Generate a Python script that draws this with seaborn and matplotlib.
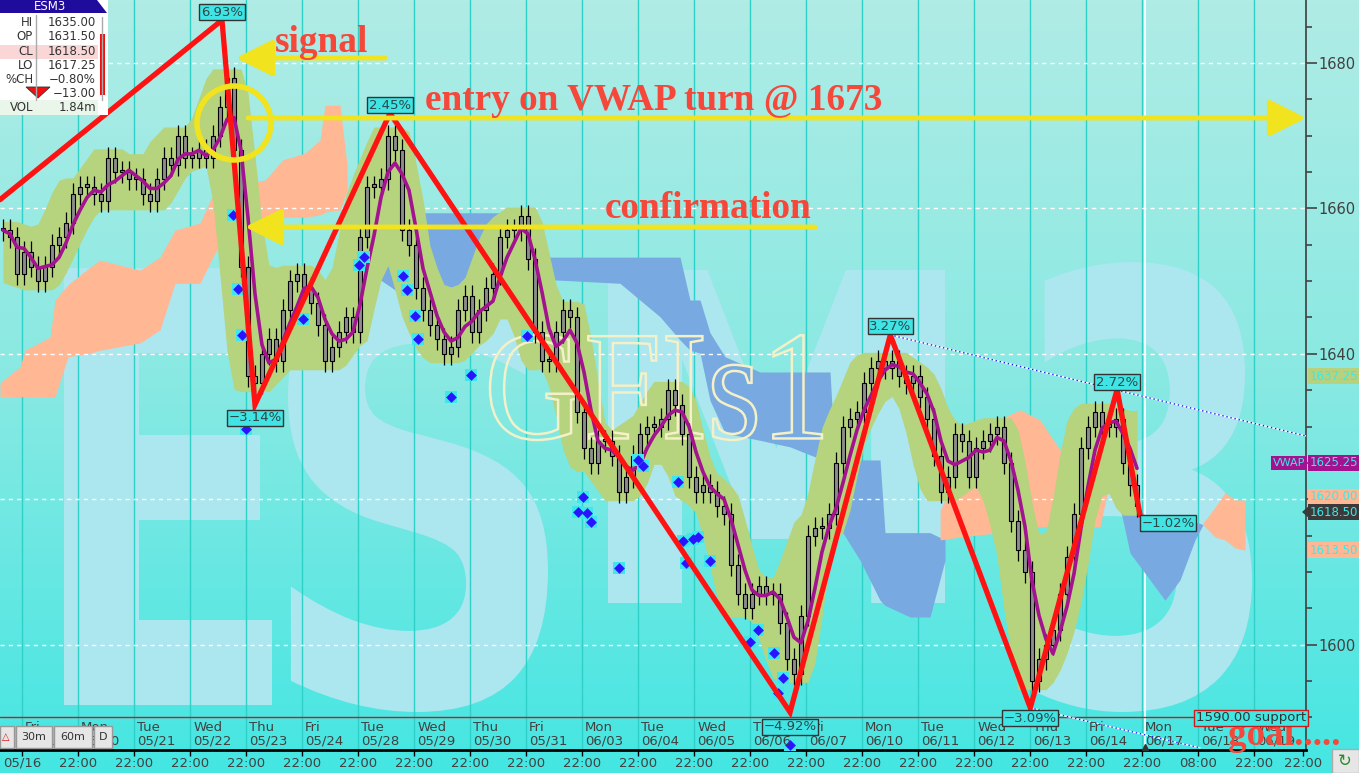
import numpy as np
import pandas as pd
import matplotlib
matplotlib.use("Agg")
import matplotlib.pyplot as plt
import seaborn as sns
from matplotlib.patches import Rectangle, Ellipse, PathPatch, Polygon
from matplotlib.textpath import TextPath
from matplotlib.font_manager import FontProperties
from matplotlib.transforms import Affine2D, blended_transform_factory
from matplotlib.colors import LinearSegmentedColormap

# ---- data (x in trading sessions, 0 = 05/16 22:00) ----
closes = [
    1657, 1656, 1651, 1654, 1652, 1650, 1652, 1655,
    1656, 1658, 1662, 1663, 1663, 1662, 1661, 1667,
    1665, 1665, 1664, 1664, 1662, 1661, 1664, 1667,
    1666, 1670, 1667, 1667, 1668, 1667, 1670, 1674,
    1678, 1668, 1652, 1637, 1636, 1640, 1642, 1639,
    1646, 1650, 1651, 1649, 1647, 1644, 1639, 1641,
    1643, 1645, 1643, 1656, 1663, 1663, 1664, 1670,
    1668, 1657, 1655, 1649, 1646, 1644, 1642, 1640,
    1641, 1646, 1648, 1643, 1646, 1649, 1651, 1656,
    1657, 1657, 1659, 1653, 1643, 1639, 1639, 1643,
    1646, 1645, 1632, 1627, 1625, 1628, 1628, 1626,
    1621, 1623, 1626, 1629, 1630, 1630, 1631, 1635,
    1633, 1629, 1623, 1621, 1622, 1621, 1619, 1618,
    1611, 1607, 1605, 1607, 1608, 1607, 1607, 1603,
    1598, 1596, 1604, 1615, 1616, 1616, 1618, 1625,
    1630, 1631, 1632, 1636, 1638, 1639, 1638, 1639,
    1637, 1636, 1637, 1634, 1631, 1626, 1621, 1623,
    1629, 1628, 1623, 1627, 1628, 1629, 1630, 1625,
    1617, 1613, 1610, 1595, 1598, 1600, 1602, 1607,
    1612, 1618, 1627, 1630, 1632, 1630, 1630, 1631,
    1625, 1622, 1619,
]

# ichimoku cloud pieces
salmon1_x = [-0.398, -0.041, 0.048, 0.495, 0.584, 0.816, 1.209, 1.388, 2.102, 2.459, 2.727,
             3.173, 3.441, 3.709, 4.066, 4.334, 4.655, 5.048, 5.316, 5.405, 5.673, 5.798]
salmon1_top = [1636.0, 1638.2, 1640.5, 1642.3, 1647.4, 1649.5, 1651.9, 1652.9, 1651.5, 1653.3, 1657.0,
               1658.0, 1662.5, 1662.9, 1663.5, 1663.9, 1666.7, 1667.6, 1669.4, 1674.2, 1674.2, 1666.0]
salmon1_bot = [1634.1, 1634.1, 1634.1, 1634.1, 1634.1, 1639.6, 1640.1, 1640.5, 1641.5, 1643.3, 1649.7,
               1649.7, 1653.9, 1656.8, 1657.7, 1658.4, 1658.8, 1658.8, 1659.1, 1659.5, 1659.8, 1662.5]

blue1_x = [6.03, 6.388, 6.923, 7.459, 7.816, 8.173, 8.888, 9.245, 9.423, 10.673, 11.03, 11.388,
           11.745, 11.923, 12.102, 12.28, 12.548, 13.173, 13.709, 14.423, 14.513, 14.959, 15.316,
           15.405, 15.852, 16.209, 16.477]
blue1_top = [1659.4, 1659.4, 1659.4, 1659.4, 1659.4, 1659.4, 1659.4, 1656.6, 1653.3, 1653.3, 1653.3,
             1653.3, 1653.3, 1647.4, 1647.4, 1642.9, 1639.6, 1637.5, 1637.5, 1637.5, 1625.4, 1625.4,
             1625.4, 1615.4, 1615.4, 1615.4, 1614.4]
blue1_bot = [1655.0, 1650.2, 1647.4, 1645.1, 1646.7, 1652.2, 1655.7, 1652.2, 1650.2, 1649.7, 1647.4,
             1645.1, 1641.9, 1640.5, 1640.1, 1633.6, 1629.1, 1628.1, 1627.2, 1625.0, 1617.1, 1611.6,
             1606.1, 1605.4, 1603.8, 1603.8, 1611.6]

salmon2_x = [16.39, 16.745, 17.459, 17.548, 17.816, 18.173, 18.53, 18.888, 19.245, 19.459]
salmon2_top = [1618.5, 1624.0, 1624.0, 1631.3, 1632.3, 1630.9, 1626.8, 1626.8, 1626.8, 1626.4]
salmon2_bot = [1614.4, 1614.8, 1615.4, 1615.8, 1616.2, 1616.2, 1616.2, 1616.2, 1616.2, 1624.0]

blue2_x = [19.459, 19.78, 20.137, 20.405, 20.673, 20.941, 21.084]
blue2_top = [1626.1, 1619.9, 1617.1, 1617.1, 1617.1, 1616.9, 1616.5]
blue2_bot = [1624.0, 1612.6, 1608.9, 1606.1, 1608.9, 1614.4, 1616.5]

salmon3_x = [21.084, 21.298, 21.477, 21.655, 21.834]
salmon3_top = [1616.7, 1618.9, 1620.9, 1619.9, 1619.9]
salmon3_bot = [1616.5, 1614.8, 1614.4, 1613.3, 1613.0]

# zigzag swings and their labels
zz_x = [-0.398, 3.566, 4.155, 6.566, 13.71, 15.5, 18.0, 19.55, 19.96]
zz_y = [1661.2, 1685.9, 1633.0, 1673.1, 1590.7, 1642.6, 1591.3, 1635.1, 1617.8]
pct_labels = ["6.93%", "-3.14%", "2.45%", "-4.92%", "3.27%", "-3.09%", "2.72%", "-1.02%"]
pct_x = [3.566, 4.155, 6.566, 13.71, 15.5, 18.0, 19.55, 20.46]
pct_y = [1687.0, 1631.2, 1674.2, 1588.7, 1643.8, 1589.9, 1636.1, 1616.7]

# signal diamonds
dia_x = [3.763, 3.852, 3.923, 3.995, 5.013, 6.014, 6.102, 6.798, 6.87, 7.012, 7.066, 7.655,
         8.013, 9.013, 10.013, 9.923, 10.084, 10.155, 10.655, 10.995, 11.084, 11.709, 11.798,
         11.977, 12.066, 11.852, 12.28, 12.995, 13.138, 13.423, 13.584, 13.495, 13.709]
dia_y = [1659.1, 1648.9, 1642.6, 1629.7, 1644.8, 1652.2, 1653.3, 1650.7, 1648.8, 1645.2, 1642.0,
         1634.1, 1637.1, 1642.4, 1620.3, 1618.2, 1618.1, 1616.9, 1610.5, 1625.4, 1624.6, 1622.4,
         1614.2, 1614.5, 1614.8, 1611.2, 1611.5, 1600.4, 1602.0, 1598.8, 1595.4, 1593.3, 1586.2]

day_names = ["Fri\n05/17", "Mon\n05/20", "Tue\n05/21", "Wed\n05/22", "Thu\n05/23", "Fri\n05/24",
             "Tue\n05/28", "Wed\n05/29", "Thu\n05/30", "Fri\n05/31", "Mon\n06/03", "Tue\n06/04",
             "Wed\n06/05", "Thu\n06/06", "Fri\n06/07", "Mon\n06/10", "Tue\n06/11", "Wed\n06/12",
             "Thu\n06/13", "Fri\n06/14", "Mon\n06/17", "Tue\n06/18", "Wed\n06/19"]
day_pos = list(range(21)) + [21.0, 22.0]
time_labels = ["05/16"] + ["22:00"] * 20 + ["08:00", "22:00", "22:00"]
time_ticks = list(range(21)) + [21.0, 22.0, 22.87]

info_names = ["HI", "OP", "CL", "LO", "%CH", "", "VOL"]
info_vals = ["1635.00", "1631.50", "1618.50", "1617.25", "\u22120.80%", "\u221213.00", "1.84m"]

W, H = 1359, 773
AX_W, AX_H = 1306, 750
XLIM = (-0.398, 22.923)
YLIM = (1585.5, 1688.67)

sns.set_theme(style="white")
plt.rcParams["font.family"] = ["DejaVu Sans"]

fig = plt.figure(figsize=(W / 100, H / 100), dpi=100)

def fp(x, y):
    # image pixel -> figure fraction
    return x / W, 1 - y / H

# background gradient for whole figure
bg = fig.add_axes([0, 0, 1, 1], zorder=-5)
cmap = LinearSegmentedColormap.from_list("bg", ["#b0ece6", "#88e9e2", "#44e6e2"])
bg.imshow(np.linspace(0, 1, 256).reshape(-1, 1), aspect="auto", cmap=cmap, extent=[0, 1, 0, 1])
bg.axis("off")

ax = fig.add_axes([0, (H - AX_H) / H, AX_W / W, AX_H / H])
ax.set_facecolor("none")
ax.set_xlim(*XLIM)
ax.set_ylim(*YLIM)

def text_in_box(s, box, prop, zorder, **kw):
    x0, x1, ytop, ybot = box
    tp = TextPath((0, 0), s, size=1, prop=prop)
    bb = tp.get_extents()
    ax0, ax1 = x0 / AX_W, x1 / AX_W
    ay0, ay1 = 1 - ybot / AX_H, 1 - ytop / AX_H
    tr = (Affine2D().translate(-bb.x0, -bb.y0)
          .scale((ax1 - ax0) / bb.width, (ay1 - ay0) / bb.height)
          .translate(ax0, ay0))
    ax.add_patch(PathPatch(tr.transform_path(tp), transform=ax.transAxes, zorder=zorder, **kw))

# big ESM3 watermark
wm = FontProperties(family="DejaVu Sans", weight="bold")
for ch, box in zip("ESM3", [(64, 272, 268, 705), (288, 548, 262, 712), (608, 945, 270, 603),
                            (1032, 1252, 262, 712)]):
    text_in_box(ch, box, wm, 0.5, facecolor="#ace6ee", edgecolor="none")

# grid
for t in range(23):
    ax.axvline(t, color="#2fd0c8", lw=1, zorder=1)
ax.axvline(20.05, color="white", lw=1.2, zorder=1)
for lv in [1600, 1620, 1640, 1660, 1680]:
    ax.axhline(lv, color="white", lw=1, ls=(0, (3, 3)), zorder=2.5)

# cloud
salmon, blue = "#ffb794", "#78a9e0"
ax.fill_between(salmon1_x, salmon1_bot, salmon1_top, color=salmon, lw=0, zorder=2)
ax.fill_between(blue1_x, blue1_bot, blue1_top, color=blue, lw=0, zorder=2)
ax.fill_between(salmon2_x, salmon2_bot, salmon2_top, color=salmon, lw=0, zorder=2)
ax.fill_between(blue2_x, blue2_bot, blue2_top, color=blue, lw=0, zorder=2)
ax.fill_between(salmon3_x, salmon3_bot, salmon3_top, color=salmon, lw=0, zorder=2)

# GFIs1 outlined watermark
text_in_box("GFIs1", (490, 822, 335, 440), FontProperties(family="Liberation Serif"), 3.5,
            facecolor="none", edgecolor="#f4f0c8", lw=1.8)

# price bars
c = np.array(closes, dtype=float)
bar_x = -0.345 + np.arange(len(c)) / 8
o = np.r_[c[0], c[:-1]]
s = pd.Series(c)
band_hi = (s.rolling(7, center=True, min_periods=1).max() + 1.2).rolling(3, center=True, min_periods=1).mean()
band_lo = (s.rolling(7, center=True, min_periods=1).min() - 1.2).rolling(3, center=True, min_periods=1).mean()
ax.fill_between(bar_x, band_lo, band_hi, color="#b6d37e", lw=0, zorder=3)

top = np.maximum(o, c)
bot = np.minimum(o, c)
ax.vlines(bar_x, bot - 1.5, top + 1.5, color="black", lw=0.9, zorder=4)
ax.bar(bar_x, np.maximum(top - bot, 0.3), bottom=bot, width=0.06, color="#8c8c8c",
       edgecolor="black", lw=0.8, zorder=4.2)

vwap = s.rolling(4, min_periods=1).mean()
sns.lineplot(x=bar_x, y=vwap.values, ax=ax, color="#a3138f", lw=2.6, zorder=5)

# diamonds
ax.scatter(dia_x, dia_y, marker="s", s=70, color="#3ee6ee", lw=0, zorder=5.5)
sns.scatterplot(x=dia_x, y=dia_y, ax=ax, marker="D", s=30, color="#2a14ff", linewidth=0, zorder=5.6)

# support line and trend lines
ax.axhline(1590, color="#d01818", lw=1, zorder=5)
for (xa, ya, xb, yb) in [(15.5, 1642.6, 22.92, 1628.7), (18.0, 1591.3, 21.03, 1585.8)]:
    ax.plot([xa, xb], [ya, yb], color="white", lw=1, zorder=5.7)
    ax.plot([xa, xb], [ya, yb], color="#1a1aff", lw=1, ls=(0, (1, 2)), zorder=5.8)

# zigzag
ax.plot(zz_x, zz_y, color="#ff1212", lw=3.8, zorder=6, solid_joinstyle="miter")
for lab, x, y in zip(pct_labels, pct_x, pct_y):
    ax.text(x, y, lab.replace("-", "\u2212"), ha="center", va="center", fontsize=9.5,
            color="#2c4848", zorder=7,
            bbox=dict(boxstyle="square,pad=0.12", fc="#40e4e4", ec="#333333", lw=1))

# axes, ticks
for sp in ["top", "left"]:
    ax.spines[sp].set_visible(False)
ax.spines["right"].set_color("#444444")
ax.spines["bottom"].set_color("black")
ax.spines["bottom"].set_linewidth(2)
ax.yaxis.tick_right()
ax.set_yticks([1600, 1620, 1640, 1660, 1680])
ax.set_yticks(np.arange(1590, 1690, 5), minor=True)
ax.tick_params(axis="y", which="major", length=8, width=1.2, color="#444444",
               labelsize=10.5, labelcolor="#404040", pad=1, right=True)
ax.tick_params(axis="y", which="minor", length=4, width=1.2, color="#444444", right=True)
ax.set_xticks(time_ticks)
ax.set_xticklabels(time_labels)
ax.tick_params(axis="x", length=4, width=1, color="black", labelsize=9.5,
               labelcolor="#404040", pad=1, bottom=True)
ax.grid(False)

tr_day = blended_transform_factory(ax.transData, ax.transAxes)
for d, lab in zip(day_pos, day_names):
    ax.text(d + 0.05, 0.004, lab, transform=tr_day, ha="left", va="bottom", fontsize=9.5,
            color="#404040", linespacing=1.0, zorder=6)
ax.plot([20.05], [YLIM[0] + 0.4], marker="^", color="#333333", ms=5, zorder=8, clip_on=False)

# annotations (image pixels)
red_txt = "#f5473a"
serif = ["Liberation Serif", "DejaVu Serif"]
for txt, x, y in [("signal", 275, 52), ("entry on VWAP turn @ 1673", 425, 110),
                  ("confirmation", 605, 218), ("goal.....", 1228, 745)]:
    fig.text(*fp(x, y), txt, ha="left", va="baseline", fontsize=26.8, fontweight="bold",
             family=serif, color=red_txt, zorder=20)

yellow = "#f1e31d"
for (tx, ty, hx, hy) in [(385, 58, 236, 58), (248, 118, 1306, 118), (815, 227, 245, 227)]:
    ax.annotate("", xy=(hx, H - hy), xytext=(tx, H - ty), xycoords="figure pixels",
                textcoords="figure pixels", zorder=19,
                arrowprops=dict(arrowstyle="-|>,head_length=0.9,head_width=0.45",
                                mutation_scale=25, lw=3.5, color=yellow,
                                shrinkA=0, shrinkB=0))
fig.patches.append(Ellipse(fp(234, 123), 74 / W, 74 / H, transform=fig.transFigure,
                           fill=False, ec=yellow, lw=4, zorder=19))

# right-hand price tags
def tag(y, s, fc, tc="#3ee8e8", x=1310, fs=8.5):
    fig.text(*fp(x, y), s, ha="left", va="center", fontsize=fs, color=tc, zorder=21,
             bbox=dict(boxstyle="square,pad=0.15", fc=fc, ec="none"))

tag(376, "1637.25", "#b6d27e")
tag(463, "1625.25", "#a3138f")
tag(463, "VWAP", "#a3138f", x=1273, fs=8)
tag(497, "1620.00", salmon)
tag(550, "1613.50", salmon)
tag(512, "1618.50", "#3a3a3a")
fig.patches.append(Polygon([fp(1302, 512), fp(1310, 505), fp(1310, 519)], closed=True,
                           transform=fig.transFigure, fc="#3a3a3a", ec="none", zorder=21))
fig.text(*fp(1251, 718), "1590.00 support", ha="center", va="center", fontsize=9.5,
         color="#333333", zorder=21,
         bbox=dict(boxstyle="square,pad=0.12", fc="#42e6e2", ec="#d01818", lw=1))

# info panel
ip = fig.add_axes([0, 1 - 115 / H, 108 / W, 115 / H], zorder=30)
ip.set_xlim(0, 108)
ip.set_ylim(115, 0)
ip.axis("off")
ip.add_patch(Rectangle((0, 0), 108, 115, fc="white", ec="none"))
ip.add_patch(Polygon([(0, 0), (97, 0), (107, 13), (0, 13)], fc="#1f0c9c", ec="none"))
ip.text(50, 6.8, "ESM3", ha="center", va="center", fontsize=8.5, color="white")
ip.add_patch(Rectangle((0, 44.5), 98, 14, fc="#fbd6d6", ec="none"))
ip.add_patch(Rectangle((0, 100), 98, 15, fc="#ebf6ea", ec="none"))
ip.plot([36, 36], [15, 100], color="#aaaaaa", lw=1)
ip.plot([102, 102], [17, 100], color="#aaaaaa", lw=1)
ip.add_patch(Rectangle((99.5, 34), 5, 61, fc="#f01010", ec="none"))
rows_y = [22.5, 37, 51.5, 65.5, 79.5, 93.5, 107.5]
for name, val, y in zip(info_names, info_vals, rows_y):
    ip.text(33, y, name, ha="right", va="center", fontsize=8.5, color="#333333")
    ip.text(96, y, val, ha="right", va="center", fontsize=8.5, color="#333333")
ip.add_patch(Polygon([(26, 87), (50, 87), (38, 98)], fc="#f01010", ec="#333333", lw=0.6))

# bottom-left buttons
for x0, x1, lab in [(0, 14, ""), (16, 52, "30m"), (54, 92, "60m"), (94, 112, "D")]:
    fig.patches.append(Rectangle(fp(x0, 748), (x1 - x0) / W, 22 / H, transform=fig.transFigure,
                                 fc="#e6e6e6", ec="#999999", lw=1, zorder=25))
    if lab:
        fig.text(*fp((x0 + x1) / 2, 737), lab, ha="center", va="center", fontsize=8,
                 color="#333333", zorder=26)
fig.text(*fp(6, 737), "\u25b3", ha="center", va="center", fontsize=7, color="#e01010", zorder=26)

# refresh button
fig.patches.append(Rectangle(fp(1332, 773), 27 / W, 24 / H, transform=fig.transFigure,
                             fc="#e6e6e6", ec="#aaaaaa", lw=1, zorder=25))
fig.text(*fp(1345, 761), "\u21bb", ha="center", va="center", fontsize=12,
         color="#2a8a2a", zorder=26)

fig.savefig("out.png", dpi=100)
